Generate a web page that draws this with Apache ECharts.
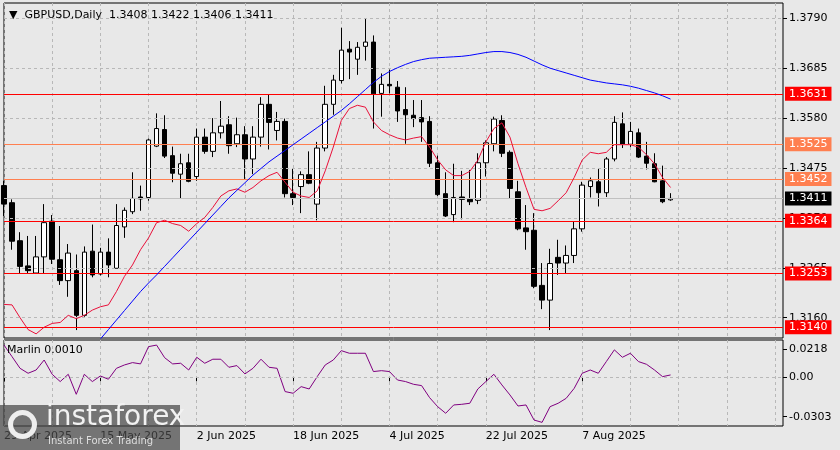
<!DOCTYPE html>
<html>
<head>
<meta charset="utf-8">
<script src="https://cdn.jsdelivr.net/npm/echarts@6/dist/echarts.min.js"></script>
<style>html,body{margin:0;padding:0;background:#e8e8e8}#main{width:840px;height:450px}</style>
</head>
<body>
<div id="main"></div>
<script>
var myChart = echarts.init(document.getElementById('main'));

var opens = [1.3438,1.3402,1.3322,1.3269,1.3254,1.3288,1.3363,1.3282,1.3238,1.3259,1.3165,1.3300,1.3252,1.3298,1.3264,1.3351,1.3383,1.3414,1.3413,1.3521,1.3556,1.3501,1.3462,1.3486,1.3457,1.3540,1.3510,1.3549,1.3566,1.3526,1.3545,1.3494,1.3540,1.3609,1.3554,1.3573,1.3421,1.3436,1.3461,1.3399,1.3517,1.3609,1.3659,1.3725,1.3704,1.3731,1.3740,1.3632,1.3651,1.3645,1.3598,1.3586,1.3581,1.3573,1.3486,1.3421,1.3377,1.3414,1.3409,1.3407,1.3486,1.3526,1.3575,1.3508,1.3425,1.3349,1.3344,1.3228,1.3197,1.3287,1.3275,1.3291,1.3347,1.3436,1.3446,1.3423,1.3494,1.3568,1.3525,1.3549,1.3500,1.3484,1.3448,1.3408];
var highs = [1.3448,1.3409,1.3340,1.3332,1.3332,1.3399,1.3376,1.3353,1.3315,1.3293,1.3310,1.3356,1.3307,1.3327,1.3399,1.3392,1.3466,1.3438,1.3537,1.3590,1.3586,1.3520,1.3505,1.3505,1.3558,1.3558,1.3580,1.3616,1.3584,1.3581,1.3563,1.3563,1.3624,1.3629,1.3593,1.3579,1.3473,1.3468,1.3510,1.3530,1.3648,1.3671,1.3770,1.3742,1.3740,1.3790,1.3754,1.3674,1.3682,1.3658,1.3645,1.3618,1.3618,1.3584,1.3501,1.3466,1.3484,1.3469,1.3471,1.3506,1.3533,1.3583,1.3586,1.3512,1.3448,1.3397,1.3380,1.3275,1.3305,1.3324,1.3312,1.3363,1.3446,1.3455,1.3473,1.3498,1.3584,1.3592,1.3572,1.3558,1.3530,1.3506,1.3480,1.3422];
var lows = [1.3374,1.3303,1.3254,1.3254,1.3252,1.3254,1.3273,1.3229,1.3204,1.3134,1.3162,1.3245,1.3249,1.3245,1.3264,1.3328,1.3378,1.3385,1.3406,1.3519,1.3496,1.3445,1.3411,1.3445,1.3448,1.3505,1.3498,1.3537,1.3505,1.3519,1.3452,1.3462,1.3520,1.3514,1.3533,1.3413,1.3397,1.3380,1.3441,1.3365,1.3510,1.3587,1.3653,1.3662,1.3671,1.3701,1.3558,1.3583,1.3632,1.3572,1.3526,1.3561,1.3530,1.3477,1.3416,1.3372,1.3361,1.3367,1.3397,1.3399,1.3457,1.3510,1.3498,1.3411,1.3344,1.3303,1.3222,1.3178,1.3134,1.3250,1.3254,1.3275,1.3341,1.3413,1.3394,1.3414,1.3489,1.3517,1.3519,1.3496,1.3472,1.3445,1.3401,1.3406];
var closes = [1.3399,1.3321,1.3268,1.3259,1.3288,1.3360,1.3283,1.3238,1.3296,1.3165,1.3298,1.3250,1.3298,1.3271,1.3354,1.3386,1.3411,1.3410,1.3534,1.3558,1.3500,1.3464,1.3484,1.3447,1.3540,1.3510,1.3549,1.3563,1.3522,1.3545,1.3494,1.3540,1.3609,1.3571,1.3573,1.3421,1.3413,1.3461,1.3443,1.3517,1.3609,1.3660,1.3723,1.3719,1.3729,1.3740,1.3631,1.3651,1.3648,1.3595,1.3587,1.3579,1.3572,1.3485,1.3419,1.3374,1.3413,1.3409,1.3404,1.3486,1.3528,1.3578,1.3506,1.3432,1.3347,1.3341,1.3226,1.3197,1.3274,1.3275,1.3291,1.3347,1.3439,1.3448,1.3423,1.3494,1.3571,1.3525,1.3552,1.3498,1.3485,1.3446,1.3404,1.3411];

var maFast = [1.3188,1.3187,1.3160,1.3135,1.3126,1.3140,1.3148,1.3150,1.3165,1.3158,1.3165,1.3176,1.3183,1.3187,1.3215,1.3247,1.3271,1.3303,1.3328,1.3360,1.3365,1.3358,1.3354,1.3342,1.3358,1.3371,1.3392,1.3416,1.3427,1.3431,1.3424,1.3434,1.3448,1.3459,1.3466,1.3445,1.3424,1.3416,1.3413,1.3427,1.3469,1.3519,1.3575,1.3600,1.3607,1.3603,1.3572,1.3554,1.3545,1.3538,1.3534,1.3538,1.3541,1.3519,1.3492,1.3471,1.3459,1.3459,1.3468,1.3491,1.3530,1.3558,1.3570,1.3540,1.3484,1.3434,1.3388,1.3385,1.3390,1.3406,1.3423,1.3455,1.3492,1.3508,1.3505,1.3508,1.3524,1.3524,1.3524,1.3519,1.3503,1.3484,1.3455,1.3434];
var maSlow = ['-','-','-','-','-','-','-','-','-','-','-',1.3105,1.3115,1.3135,1.3155,1.3175,1.3195,1.3215,1.3233,1.3250,1.3268,1.3286,1.3304,1.3322,1.3340,1.3358,1.3376,1.3394,1.3412,1.3428,1.3444,1.3460,1.3474,1.3488,1.3500,1.3512,1.3524,1.3536,1.3548,1.3560,1.3572,1.3584,1.3596,1.3610,1.3625,1.3640,1.3655,1.3668,1.3678,1.3686,1.3693,1.3699,1.3703,1.3706,1.3707,1.3708,1.3709,1.3710,1.3712,1.3715,1.3718,1.3720,1.3720,1.3718,1.3714,1.3708,1.3700,1.3692,1.3685,1.3680,1.3675,1.3670,1.3665,1.3660,1.3657,1.3654,1.3652,1.3650,1.3647,1.3643,1.3638,1.3633,1.3627,1.3620];
var marlin = [0.0248,0.0159,0.0069,0.0031,0.0056,0.0133,0.0023,-0.0033,0.0023,-0.0131,0.0023,-0.0033,0.0010,-0.0015,0.0069,0.0095,0.0113,0.0103,0.0236,0.0248,0.0151,0.0103,0.0108,0.0056,0.0154,0.0108,0.0139,0.0139,0.0077,0.0090,0.0026,0.0069,0.0139,0.0077,0.0069,-0.0110,-0.0123,-0.0072,-0.0090,0.0005,0.0095,0.0133,0.0205,0.0185,0.0185,0.0185,0.0044,0.0051,0.0044,-0.0021,-0.0033,-0.0054,-0.0064,-0.0157,-0.0226,-0.0277,-0.0213,-0.0208,-0.0200,-0.0090,-0.0033,0.0023,-0.0059,-0.0136,-0.0221,-0.0213,-0.0329,-0.0347,-0.0226,-0.0200,-0.0162,-0.0085,0.0031,0.0056,0.0031,0.0121,0.0211,0.0154,0.0185,0.0121,0.0100,0.0056,0.0005,0.0018];

var dateLabels = {0: '29 Apr 2025', 12: '15 May 2025', 24: '2 Jun 2025', 36: '18 Jun 2025', 48: '4 Jul 2025', 60: '22 Jul 2025', 72: '7 Aug 2025'};
var priceTicks = [1.3790, 1.3685, 1.3580, 1.3475, 1.3370, 1.3265, 1.3160];
var marlinTicks = [0.0218, 0, -0.0303];
var levelValues = [1.3631, 1.3525, 1.3452, 1.3411, 1.3364, 1.3253, 1.3140];
var levelColors = ['#ff0000', '#ff7f50', '#ff7f50', '#000000', '#ff0000', '#ff0000', '#ff0000'];
var levelLineColors = ['#ff0000', '#ff7f50', '#ff7f50', '#c0c0c0', '#ff0000', '#ff0000', '#ff0000'];

var categories = [];
for (var i = 0; i < 98; i++) categories.push(dateLabels[i] || '');
var candles = opens.map(function (o, i) { return [o, closes[i], lows[i], highs[i]]; });

var font = 'DejaVu Sans';
var gridDash = {color: '#b8b8b8', type: [3, 3], width: 1};

// one empty series per level line, so each keeps its own colour
var levelSeries = levelValues.map(function (v, i) {
    return {
        type: 'line', xAxisIndex: 0, yAxisIndex: 0, data: [], silent: true, z: 3,
        markLine: {
            silent: true, symbol: 'none', precision: 4,
            lineStyle: {color: levelLineColors[i], width: 1, type: 'solid', opacity: 1},
            label: {position: 'end', color: '#fff', backgroundColor: levelColors[i], fontSize: 11, fontFamily: font,
                padding: [2, 4, 1, 4], distance: 2, formatter: function (p) { return Number(p.value).toFixed(4); }},
            data: [{yAxis: v}]
        }
    };
});
var priceGridLines = priceTicks.map(function (v) { return {yAxis: v}; });

var option = {
    backgroundColor: '#e8e8e8',
    animation: false,
    textStyle: {fontFamily: font},
    title: {
        text: '\u25BC  GBPUSD,Daily  1.3408 1.3422 1.3406 1.3411',
        left: 4, top: 5,
        textStyle: {fontSize: 11, fontWeight: 'normal', color: '#000', fontFamily: font}
    },
    graphic: [
        {type: 'text', left: 7, top: 345, z: 10, style: {text: 'Marlin 0.0010', fontSize: 11, fontFamily: font, fill: '#000'}},
        {type: 'rect', left: 0, top: 405, z: 20, shape: {width: 180, height: 45}, style: {fill: 'rgba(70,70,70,0.72)'}},
        {type: 'circle', left: 8, top: 410, z: 21, shape: {r: 12}, style: {fill: 'none', stroke: '#eee', lineWidth: 5}},
        {type: 'text', left: 46, top: 404, z: 21, style: {text: 'instaforex', fontSize: 28, fontFamily: font, fill: '#f2f2f2'}},
        {type: 'text', left: 48, top: 436, z: 21, style: {text: 'Instant Forex Trading', fontSize: 10, fontFamily: font, fill: '#dddddd'}}
    ],
    grid: [
        {left: 4, right: 57, top: 3, height: 335, show: true, borderColor: '#000', borderWidth: 1, backgroundColor: 'transparent'},
        {left: 4, right: 57, top: 340, height: 86, show: true, borderColor: '#000', borderWidth: 1, backgroundColor: 'transparent'}
    ],
    xAxis: [
        {
            type: 'category', gridIndex: 0, data: categories, boundaryGap: false,
            axisLine: {show: false}, axisTick: {show: false}, axisLabel: {show: false},
            splitLine: {show: true, interval: function (i) { return i % 6 === 0; }, lineStyle: gridDash}
        },
        {
            type: 'category', gridIndex: 1, data: categories, boundaryGap: false,
            axisLine: {show: false},
            axisTick: {show: true, interval: function (i) { return i % 12 === 0 && i <= 72; }, lineStyle: {color: '#000'}, length: 4},
            axisLabel: {
                interval: function (i) { return i % 12 === 0 && i <= 72; },
                align: 'left', color: '#000', fontSize: 11, fontFamily: font, margin: 5
            },
            splitLine: {show: true, interval: function (i) { return i % 6 === 0; }, lineStyle: gridDash}
        }
    ],
    yAxis: [
        {
            type: 'value', gridIndex: 0, position: 'right', min: 1.31173, max: 1.38222,
            axisLine: {show: false},
            axisTick: {show: true, customValues: priceTicks, lineStyle: {color: '#000'}, length: 4},
            axisLabel: {customValues: priceTicks, color: '#000', fontSize: 11, fontFamily: font, margin: 6,
                formatter: function (v) { return v.toFixed(4); }},
            splitLine: {show: false}
        },
        {
            type: 'value', gridIndex: 1, position: 'right', min: -0.0375, max: 0.0287,
            axisLine: {show: false},
            axisTick: {show: true, customValues: marlinTicks, lineStyle: {color: '#000'}, length: 4},
            axisLabel: {customValues: marlinTicks, color: '#000', fontSize: 11, fontFamily: font, margin: 6,
                formatter: function (v) { return v === 0 ? '0.00' : v.toFixed(4); }},
            splitLine: {show: false}
        }
    ],
    series: [
        {
            type: 'line', xAxisIndex: 0, yAxisIndex: 0, data: [], silent: true,
            markLine: {silent: true, symbol: 'none', precision: 4, label: {show: false}, lineStyle: gridDash, data: priceGridLines}
        },
        {
            type: 'candlestick', xAxisIndex: 0, yAxisIndex: 0, data: candles, barWidth: 5, z: 4,
            itemStyle: {color: '#ffffff', color0: '#000000', borderColor: '#000000', borderColor0: '#000000', borderWidth: 1}
        },
        {type: 'line', xAxisIndex: 0, yAxisIndex: 0, data: maFast, symbol: 'none', z: 5, lineStyle: {color: '#e8103a', width: 1}},
        {type: 'line', xAxisIndex: 0, yAxisIndex: 0, data: maSlow, symbol: 'none', z: 5, lineStyle: {color: '#0000ff', width: 1}},
        {
            type: 'line', xAxisIndex: 1, yAxisIndex: 1, data: marlin, symbol: 'none', lineStyle: {color: '#800080', width: 1},
            markLine: {silent: true, symbol: 'none', precision: 4, label: {show: false}, lineStyle: gridDash, data: [{yAxis: 0}]}
        }
    ].concat(levelSeries)
};

myChart.setOption(option);
</script>
</body>
</html>
